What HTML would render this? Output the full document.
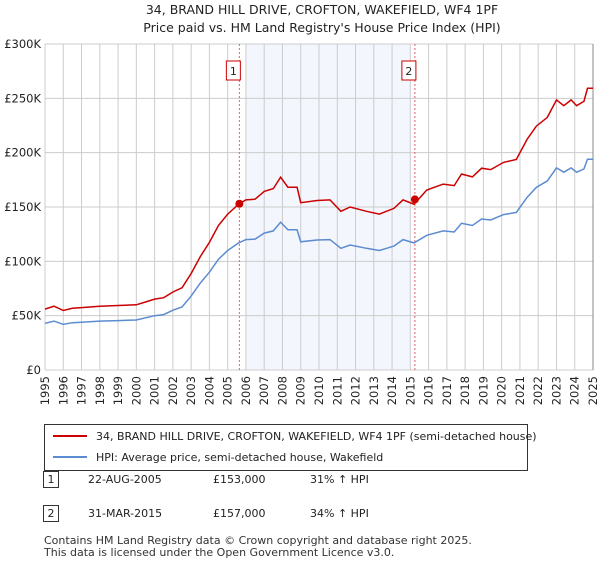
<!DOCTYPE html>
<html><head><meta charset="utf-8"><style>
body{margin:0;background:#fff;font-family:"Liberation Sans","DejaVu Sans",sans-serif;}
svg text{font-family:"DejaVu Sans","Liberation Sans",sans-serif;}
</style></head><body>
<svg width="600" height="560" xmlns="http://www.w3.org/2000/svg">
<text x="322" y="14" text-anchor="middle" font-size="12.5" fill="#222">34, BRAND HILL DRIVE, CROFTON, WAKEFIELD, WF4 1PF</text>
<text x="322" y="32" text-anchor="middle" font-size="12.5" fill="#222">Price paid vs. HM Land Registry's House Price Index (HPI)</text>
<g id="plot"></g>
<g>
<rect x="44.5" y="424.5" width="483" height="46" fill="#fff" stroke="#333"/>
<line x1="53" y1="436" x2="87" y2="436" stroke="#cc0000" stroke-width="2"/>
<text x="96" y="440" font-size="11" fill="#222">34, BRAND HILL DRIVE, CROFTON, WAKEFIELD, WF4 1PF (semi-detached house)</text>
<line x1="53" y1="457" x2="87" y2="457" stroke="#5b8bd0" stroke-width="2"/>
<text x="96" y="461" font-size="11" fill="#222">HPI: Average price, semi-detached house, Wakefield</text>
</g>
<g font-size="11" fill="#222">
<rect x="43.5" y="471.5" width="15" height="16" fill="#fff" stroke="#333"/><text x="51" y="483" text-anchor="middle">1</text>
<text x="88" y="483">22-AUG-2005</text><text x="213" y="483">£153,000</text><text x="310" y="483">31% ↑ HPI</text>
<rect x="43.5" y="505.5" width="15" height="16" fill="#fff" stroke="#333"/><text x="51" y="517" text-anchor="middle">2</text>
<text x="88" y="517">31-MAR-2015</text><text x="213" y="517">£157,000</text><text x="310" y="517">34% ↑ HPI</text>
</g>
<text x="44" y="544" font-size="11" fill="#333">Contains HM Land Registry data © Crown copyright and database right 2025.</text>
<text x="44" y="556" font-size="11" fill="#333">This data is licensed under the Open Government Licence v3.0.</text>
</svg>
<script>
const hpiYears=[1995,1995.5,1996,1996.5,1997,1998,1999,2000,2000.5,2001,2001.5,2002,2002.5,2003,2003.5,2004,2004.5,2005,2005.6,2006,2006.5,2007,2007.5,2007.9,2008.3,2008.8,2009,2009.9,2010.6,2011.2,2011.7,2012.6,2013.3,2014.1,2014.6,2015.2,2015.9,2016.8,2017.4,2017.8,2018.4,2018.9,2019.4,2020.1,2020.8,2021.4,2021.9,2022.5,2023.0,2023.4,2023.8,2024.1,2024.5,2024.7,2025.0];
const hpiValues=[43000,45000,42000,43500,44000,45000,45500,46000,48000,50000,51000,55000,58000,68000,80000,90000,102000,110000,117000,120000,120500,126000,128000,136000,129000,129000,118000,119600,120000,112000,115000,112000,110000,114000,120000,117000,124000,128000,127000,135000,133000,139000,138000,143000,145000,159000,168000,174000,186000,182000,186000,182000,185000,194000,194000];
const saleYears=[2005.64,2015.25];
const salePrices=[153000,157000];
const saleLabels=["1","2"];
const yTicks=[0,50000,100000,150000,200000,250000,300000];
const yTickLabels=["£0","£50K","£100K","£150K","£200K","£250K","£300K"];
const xTicks=[1995,1996,1997,1998,1999,2000,2001,2002,2003,2004,2005,2006,2007,2008,2009,2010,2011,2012,2013,2014,2015,2016,2017,2018,2019,2020,2021,2022,2023,2024,2025];

const X0=45,X1=593,Y0=370,Y1=44;
const sx=t=>X0+(t-1995)/30*(X1-X0);
const sy=v=>Y0-v/300000*(Y0-Y1);
const NS="http://www.w3.org/2000/svg";
const g=document.getElementById('plot');
function mk(tag,a){const e=document.createElementNS(NS,tag);for(const k in a)e.setAttribute(k,a[k]);g.appendChild(e);return e;}
function hpiAt(t){for(let i=1;i<hpiYears.length;i++){if(t<=hpiYears[i]){const f=(t-hpiYears[i-1])/(hpiYears[i]-hpiYears[i-1]);return hpiValues[i-1]+f*(hpiValues[i]-hpiValues[i-1]);}}return hpiValues[hpiValues.length-1];}

let e=mk('rect',{x:sx(2006),y:Y1,width:sx(2015)-sx(2006),height:Y0-Y1,fill:'#eef2fc',opacity:0.7});


xTicks.forEach(t=>{
 const l=mk('line',{x1:sx(t),x2:sx(t),y1:Y1,y2:Y0,stroke:'#cccccc','stroke-width':1});
 
 
 const px=sx(t)+4, py=Y0+6;
 const tx=mk('text',{x:px,y:py,'text-anchor':'end','font-size':11.5,fill:'#222',transform:'rotate(-90 '+px+' '+py+')'});
 tx.textContent=t;
 
 
});
yTicks.forEach((v,i)=>{
 const l=mk('line',{x1:X0,x2:X1,y1:sy(v),y2:sy(v),stroke:'#cccccc','stroke-width':1});
 
 
 const tx=mk('text',{x:X0-4,y:sy(v)+4,'text-anchor':'end','font-size':11.5,fill:'#222'});
 tx.textContent=yTickLabels[i];
 
 
});
e=mk('line',{x1:X1,x2:X1,y1:Y1,y2:Y0,stroke:'#888','stroke-width':1});


saleYears.forEach((t,i)=>{
 const l=mk('line',{x1:sx(t),x2:sx(t),y1:Y1,y2:Y0,stroke:'#e06070','stroke-width':1,'stroke-dasharray':'2,2'});
 
 
 const b=mk('rect',{x:sx(t)-13,y:61,width:14,height:19,fill:'#fff',stroke:'#cc0000'});
 
 
 const tx=mk('text',{x:sx(t)-6,y:75,'text-anchor':'middle','font-size':11,fill:'#222'});
 tx.textContent=saleLabels[i];
 
 
});
let d=hpiYears.map((t,i)=>(i?'L':'M')+sx(t).toFixed(1)+','+sy(hpiValues[i]).toFixed(1)).join('');
e=mk('path',{d:d,fill:'none',stroke:'#5b8bd0','stroke-width':1.5});


const f1=salePrices[0]/hpiAt(saleYears[0]),f2=salePrices[1]/hpiAt(saleYears[1]);
d=hpiYears.map((t,i)=>(i?'L':'M')+sx(t).toFixed(1)+','+sy(hpiValues[i]*(t<saleYears[1]?f1:f2)).toFixed(1)).join('');
e=mk('path',{d:d,fill:'none',stroke:'#cc0000','stroke-width':1.5});


saleYears.forEach((t,i)=>{
 const c=mk('circle',{cx:sx(t),cy:sy(salePrices[i]),r:4,fill:'#cc0000'});
 
 
});
</script>
</body></html>
